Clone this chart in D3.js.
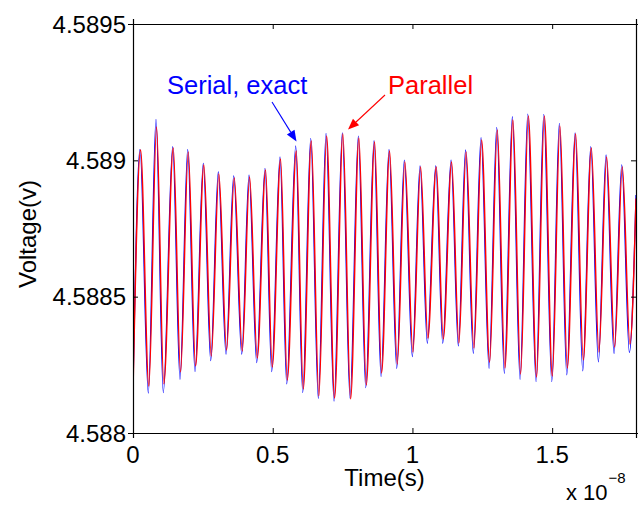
<!DOCTYPE html>
<html>
<head>
<meta charset="utf-8">
<script src="https://cdn.jsdelivr.net/npm/d3@7"></script>
<style>
  body { margin: 0; background: #fff; }
  text { font-family: "Liberation Sans", Arial, sans-serif; }
</style>
</head>
<body>
<svg id="chart" width="638" height="506"></svg>
<script>
// time axis in units of 1e-8 s, turning points of each trace
var serialT = [0, 0.0251, 0.0548, 0.0823, 0.1084, 0.1421, 0.1682, 0.1958, 0.2219, 0.2516, 0.2781, 0.3053, 0.3329, 0.3604, 0.3891, 0.4152, 0.4427, 0.4724, 0.4964, 0.5261, 0.5501, 0.5823, 0.6074, 0.6360, 0.6632, 0.6908, 0.7194, 0.7491, 0.7767, 0.8064, 0.8329, 0.8626, 0.8876, 0.9162, 0.9438, 0.9710, 0.9997, 1.0272, 1.0533, 1.0834, 1.1084, 1.1382, 1.1643, 1.1901, 1.2180, 1.2455, 1.2742, 1.3017, 1.3289, 1.3576, 1.3851, 1.4127, 1.4424, 1.4700, 1.4986, 1.5258, 1.5523, 1.5820, 1.6095, 1.6382, 1.6654, 1.6929, 1.7215, 1.7491, 1.7763, 1.8];
var serialV = [4.588158,
  4.589040, 4.588146, 4.589150, 4.588148, 4.589050, 4.588197, 4.589040, 4.588225,
  4.588989, 4.588265, 4.588958, 4.588289, 4.588943, 4.588289, 4.588946, 4.588258,
  4.588971, 4.588225, 4.589013, 4.588180, 4.589053, 4.588148, 4.589081, 4.588127,
  4.589099, 4.588117, 4.589101, 4.588127, 4.589089, 4.588166, 4.589072, 4.588207,
  4.589040, 4.588237, 4.589001, 4.588280, 4.588980, 4.588329, 4.588980, 4.588329,
  4.589001, 4.588319, 4.589038, 4.588292, 4.589083, 4.588237, 4.589121, 4.588219,
  4.589160, 4.588197, 4.589170, 4.588188, 4.589169, 4.588188, 4.589136, 4.588213,
  4.589101, 4.588228, 4.589050, 4.588261, 4.589020, 4.588292, 4.588983, 4.588295,
  4.588873];

var parallelT = [0, 0.0271, 0.0568, 0.0843, 0.1104, 0.1441, 0.1702, 0.1978, 0.2239, 0.2536, 0.2801, 0.3073, 0.3349, 0.3624, 0.3911, 0.4172, 0.4447, 0.4744, 0.4984, 0.5281, 0.5521, 0.5843, 0.6094, 0.6380, 0.6652, 0.6928, 0.7214, 0.7511, 0.7787, 0.8084, 0.8349, 0.8646, 0.8896, 0.9182, 0.9458, 0.9730, 1.0017, 1.0292, 1.0553, 1.0854, 1.1104, 1.1402, 1.1663, 1.1921, 1.2200, 1.2475, 1.2762, 1.3037, 1.3309, 1.3596, 1.3871, 1.4147, 1.4444, 1.4720, 1.5006, 1.5278, 1.5543, 1.5840, 1.6115, 1.6402, 1.6674, 1.6949, 1.7235, 1.7511, 1.7783, 1.8];
var parallelV = [4.588150,
  4.589038, 4.588172, 4.589122, 4.588180, 4.589045, 4.588224, 4.589031, 4.588246,
  4.588983, 4.588282, 4.588950, 4.588304, 4.588935, 4.588301, 4.588939, 4.588275,
  4.588965, 4.588242, 4.589005, 4.588194, 4.589034, 4.588161, 4.589071, 4.588136,
  4.589089, 4.588128, 4.589097, 4.588125, 4.589082, 4.588176, 4.589067, 4.588220,
  4.589034, 4.588253, 4.588994, 4.588297, 4.588976, 4.588348, 4.588976, 4.588345,
  4.588994, 4.588330, 4.589031, 4.588312, 4.589075, 4.588260, 4.589111, 4.588238,
  4.589148, 4.588216, 4.589163, 4.588205, 4.589163, 4.588209, 4.589126, 4.588238,
  4.589097, 4.588268, 4.589045, 4.588297, 4.589012, 4.588315, 4.588976, 4.588326,
  4.588860];

var xTicks = [0, 0.5, 1, 1.5];
var yTicks = [4.588, 4.5885, 4.589, 4.5895];
var yTickLabels = ["4.588", "4.5885", "4.589", "4.5895"];

// layout
var margin = {top: 24, right: 2, bottom: 73, left: 133};
var width = 638 - margin.left - margin.right;
var height = 506 - margin.top - margin.bottom;

var svg = d3.select("#chart");
var g = svg.append("g").attr("transform", `translate(${margin.left},${margin.top})`);

var x = d3.scaleLinear().domain([0, 1.8]).range([0, width]);
var y = d3.scaleLinear().domain([4.588, 4.5895]).range([height, 0]);

g.append("clipPath").attr("id", "clip")
  .append("rect").attr("width", width).attr("height", height);

var line = d3.line()
  .x(d => x(d[0]))
  .y(d => y(d[1]))
  .curve(d3.curveMonotoneX);

var serial = serialT.map((t, i) => [t, serialV[i]]);
var parallel = parallelT.map((t, i) => [t, parallelV[i]]);

var traces = g.append("g").attr("clip-path", "url(#clip)");
traces.append("path").datum(serial)
  .attr("d", line)
  .attr("fill", "none")
  .attr("stroke", "#0000ff")
  .attr("stroke-width", 1.2);
traces.append("path").datum(parallel)
  .attr("d", line)
  .attr("fill", "none")
  .attr("stroke", "#ff0000")
  .attr("stroke-width", 1.4);

// box with inward ticks on all sides
var tickLen = 5;
var yFmt = d => yTickLabels[yTicks.indexOf(d)];
g.append("g").call(d3.axisBottom(x).tickValues(xTicks).tickSize(tickLen).tickFormat(""))
  .attr("transform", `translate(0,${height})`).selectAll(".tick line").attr("y2", -tickLen);
g.append("g").call(d3.axisTop(x).tickValues(xTicks).tickSize(tickLen).tickFormat(""))
  .selectAll(".tick line").attr("y2", tickLen);
g.append("g").call(d3.axisLeft(y).tickValues(yTicks).tickSize(tickLen).tickFormat(""))
  .selectAll(".tick line").attr("x2", tickLen);
g.append("g").call(d3.axisRight(y).tickValues(yTicks).tickSize(tickLen).tickFormat(""))
  .attr("transform", `translate(${width},0)`).selectAll(".tick line").attr("x2", -tickLen);
g.selectAll(".domain").attr("stroke", "#000").attr("stroke-width", 1.2);
g.selectAll(".tick line").attr("stroke", "#000");

// tick labels
g.selectAll(".xlab").data(xTicks).enter().append("text")
  .attr("x", d => x(d)).attr("y", height + 30)
  .attr("text-anchor", "middle").attr("font-size", 24)
  .text(d => d);
g.selectAll(".ylab").data(yTicks).enter().append("text")
  .attr("x", -7).attr("y", d => y(d) + 8.5)
  .attr("text-anchor", "end").attr("font-size", 24)
  .text(yFmt);

// axis titles
g.append("text").attr("x", width / 2).attr("y", height + 53)
  .attr("text-anchor", "middle").attr("font-size", 24).text("Time(s)");
svg.append("text").attr("transform", "translate(36,234) rotate(-90)")
  .attr("text-anchor", "middle").attr("font-size", 24).text("Voltage(v)");
var mult = svg.append("text").attr("x", 566).attr("y", 500).attr("font-size", 22);
mult.append("tspan").text("x 10");
mult.append("tspan").attr("dy", -17).attr("dx", 1).attr("font-size", 15).text("\u22128");

// annotations with arrows
function arrow(color, x1, y1, x2, y2) {
  var ang = Math.atan2(y2 - y1, x2 - x1), L = 11, W = 4.5;
  var bx = x2 - L * Math.cos(ang), by = y2 - L * Math.sin(ang);
  svg.append("line").attr("x1", x1).attr("y1", y1).attr("x2", bx).attr("y2", by)
    .attr("stroke", color).attr("stroke-width", 1.1);
  svg.append("path")
    .attr("d", `M${x2},${y2}L${bx + W * Math.sin(ang)},${by - W * Math.cos(ang)}L${bx - W * Math.sin(ang)},${by + W * Math.cos(ang)}Z`)
    .attr("fill", color);
}
svg.append("text").attr("x", 167).attr("y", 94).attr("font-size", 25.5)
  .attr("fill", "#0000ff").text("Serial, exact");
arrow("#0000ff", 272, 102, 296.5, 141.5);
svg.append("text").attr("x", 388).attr("y", 94).attr("font-size", 25.5)
  .attr("fill", "#ff0000").text("Parallel");
arrow("#ff0000", 385, 95, 348, 129.5);
</script>
</body>
</html>
